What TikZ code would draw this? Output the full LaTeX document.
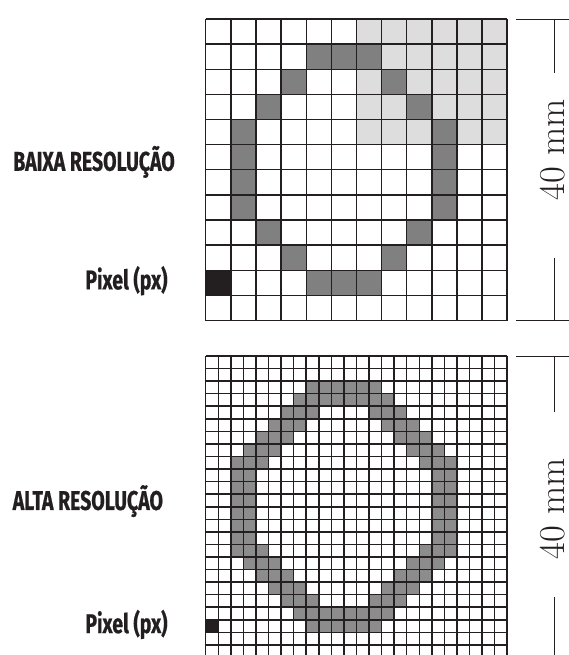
\documentclass[tikz,border=0pt]{standalone}
\usepackage{fontspec}
\newfontfamily\labelfont{Fira Sans}[FakeStretch=0.72,FakeBold=0.6]
\definecolor{inkline}{HTML}{231F20}
\definecolor{pixdark}{HTML}{808080}
\definecolor{pixdarkhi}{HTML}{8C8C8C}
\definecolor{pixlight}{HTML}{DDDDDD}

\begin{document}
\begin{tikzpicture}[
  x=0.75cm, y=0.75cm,
  gridline/.style={draw=inkline,line width=1.2pt,step=1},
  caption/.style={font=\labelfont\bfseries\fontsize{23}{26}\selectfont,
    text=inkline,inner sep=0pt,anchor=base east},
  measure/.style={draw=inkline,line width=0.6pt},
  mmlabel/.style={font=\fontsize{31}{36}\selectfont,text=inkline,
    rotate=90,inner sep=0pt}
]
  \useasboundingbox (-8.187,-13.313) rectangle (14.42,12.756);

  % baixa resolucao: 12 x 12 pixels
  \fill[pixlight] (6,7) rectangle (12,12);
  \foreach \r/\c in {1/4,1/5,1/6,2/3,2/7,3/2,3/8,4/1,4/9,5/1,5/9,6/1,6/9,
                     7/1,7/9,8/2,8/8,9/3,9/7,10/4,10/5,10/6}
    \fill[pixdark] (\c,11-\r) rectangle (\c+1,12-\r);
  \fill[inkline] (0,1) rectangle (1,2);
  \draw[gridline] (0,0) grid (12,12);

  % alta resolucao: 24 x 24 pixels
  \begin{scope}[shift={(0,-13.413)},x=0.375cm,y=0.375cm]
    \foreach \r/\a/\b in {2/8/13,3/7/14,4/6/8,5/5/7,6/4/6,7/3/5,8/2/4,
                          9/2/3,10/2/3,11/2/3}{
      \fill[pixdarkhi] (\a,23-\r) rectangle (\b+1,24-\r);
      \fill[pixdarkhi] (21-\b,23-\r) rectangle (22-\a,24-\r);
      \fill[pixdarkhi] (\a,\r) rectangle (\b+1,\r+1);
      \fill[pixdarkhi] (21-\b,\r) rectangle (22-\a,\r+1);
    }
    \fill[inkline] (0,2) rectangle (1,3);
    \draw[gridline,line width=1.3pt] (0,0) grid (24,24);
  \end{scope}

  \node[caption] (baixa) at (-1.22,5.96) {BAIXA RESOLUÇÃO};
  \node[caption] (pxbaixa) at (-1.51,1.24) {Pixel (px)};
  \node[caption] (alta) at (-1.69,-7.54) {ALTA RESOLUÇÃO};
  \node[caption] (pxalta) at (-1.51,-12.44) {Pixel (px)};

  % cotas
  \draw[measure] (12.35,12) -- (14.5,12);
  \draw[measure] (13.86,12) -- (13.86,9.85);
  \draw[measure] (13.86,2.49) -- (13.86,0);
  \draw[measure] (12.35,0) -- (14.5,0);
  \node[mmlabel] (mmbaixa) at (13.80,6.79) {40 mm};

  \draw[measure] (12.35,-1.413) -- (14.5,-1.413);
  \draw[measure] (13.86,-1.413) -- (13.86,-3.642);
  \draw[measure] (13.86,-11.005) -- (13.86,-13.5);
  \node[mmlabel] (mmalta) at (13.80,-7.50) {40 mm};
\end{tikzpicture}
\end{document}
